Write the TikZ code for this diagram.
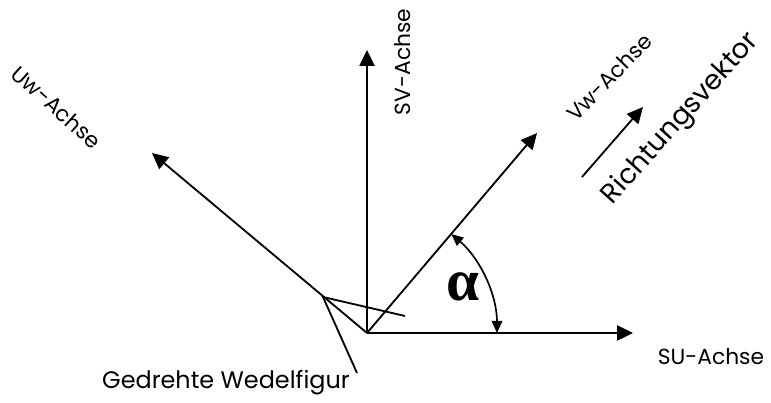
\documentclass[tikz,border=0pt]{standalone}
\usepackage{fontspec}
\setmainfont{Poppins}
\newfontfamily\alphafont{Liberation Serif}
\usepackage{tikz}
\usetikzlibrary{arrows.meta,calc}

\begin{document}
\begin{tikzpicture}[>={Triangle[length=4mm, width=3.8mm]},
  axis/.style={->, line width=1.3pt},
  figline/.style={line width=1.3pt},
  lbl/.style={font=\fontsize{15.5}{17}\selectfont, inner sep=0pt}]
\useasboundingbox (-9.175,-1.75) rectangle (10.1,8.325);
% Achsen
\coordinate (O) at (0,0);
\coordinate (su) at (6.65,0);
\coordinate (sv) at (0,7.075);
\coordinate (uw) at (-5.375,4.5);
\coordinate (vw) at (4.25,5.0);
\draw[axis] (O) -- (su);
\draw[axis] (O) -- (sv);
\draw[axis] (O) -- (uw);
\draw[axis] (O) -- (vw);
% Wedelfigur
\coordinate (wa) at (-1.1,0.9);
\coordinate (wb) at (0.95,0.425);
\coordinate (wc) at (-0.25,-1.0);
\draw[figline] (wb) -- (wa) -- (wc);
% Richtungsvektor
\coordinate (rs) at (5.375,3.9);
\coordinate (rt) at (6.9,5.65);
\draw[axis] (rs) -- (rt);
% Winkel
\draw[{Triangle[length=3mm, width=2.6mm]}-{Triangle[length=3mm, width=2.6mm]}, line width=1.2pt]
  (49.6:3.25) arc[start angle=49.6, end angle=0, radius=3.25];
\node (alpha) at (2.4,1.15) {\alphafont\bfseries\fontsize{42}{42}\selectfont α};
% Beschriftungen
\node[lbl, rotate=-42] (uwl) at (-7.76,5.64) {Uw-Achse};
\node[lbl, rotate=90] (svl) at (0.9,6.775) {SV-Achse};
\node[lbl, rotate=46] (vwl) at (6.05,6.39) {Vw-Achse};
\node[lbl, rotate=48, font=\fontsize{19.5}{21}\selectfont] (rvl) at (7.85,5.35) {Richtungsvektor};
\node[lbl] (sul) at (8.6,-0.6) {SU-Achse};
\node[lbl, font=\fontsize{17}{19}\selectfont] (wfl) at (-3.525,-1.25) {Gedrehte Wedelfigur};
\end{tikzpicture}
\end{document}
